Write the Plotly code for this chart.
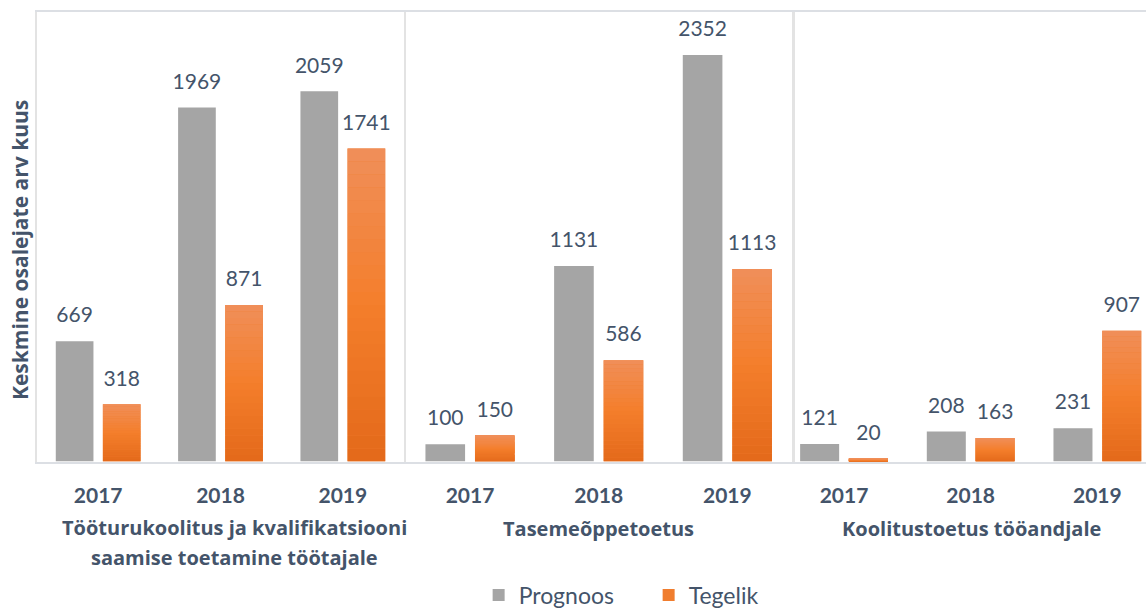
import plotly.graph_objects as go

# ---------------- data ----------------
years = ["2017", "2018", "2019"]
panel_name_lines = [
    ["Tööturukoolitus ja kvalifikatsiooni", "saamise toetamine töötajale"],
    ["Tasemeõppetoetus"],
    ["Koolitustoetus tööandjale"],
]
prognoos_p1 = [669, 1969, 2059]
tegelik_p1 = [318, 871, 1741]
prognoos_p2 = [100, 1131, 2352]
tegelik_p2 = [150, 586, 1113]
prognoos_p3 = [121, 208, 231]
tegelik_p3 = [20, 163, 907]
y_title = "Keskmine osalejate arv kuus"
series_names = ["Prognoos", "Tegelik"]

# ---------------- styling ----------------
W, H = 1146, 608
FONT = "Lato"
FONT_B = "Open Sans"
TXT = "#44546a"
GREY = "#a5a5a5"
ORANGE_MID = "#f07d2e"
GRAD_STOPS = [(0.0, (227, 105, 26)), (0.5, (244, 126, 43)), (1.0, (240, 143, 90))]
K = 24  # gradient slices

# panel geometry (pixels)
x_dom_px = [(37, 404), (405.7, 791.7), (795, 1146)]
x_ranges = [[-0.5, 2.5], [-0.5, 2.5], [-0.387, 2.384]]
y_max = [2500, 2600, 3120]
y_top_px, y_bot_px = 12, 461.5
name_cx_px = [234, 598.7, 971]


def grad(f):
    for (f0, c0), (f1, c1) in zip(GRAD_STOPS[:-1], GRAD_STOPS[1:]):
        if f <= f1:
            t = (f - f0) / (f1 - f0)
            c = [round(a + (b - a) * t) for a, b in zip(c0, c1)]
            return "rgb(%d,%d,%d)" % tuple(c)
    return "rgb(%d,%d,%d)" % GRAD_STOPS[-1][1]


panels = [(prognoos_p1, tegelik_p1), (prognoos_p2, tegelik_p2), (prognoos_p3, tegelik_p3)]

fig = go.Figure()
for k, (prog, teg) in enumerate(panels, start=1):
    xa = "x" if k == 1 else f"x{k}"
    ya = "y" if k == 1 else f"y{k}"
    fig.add_trace(go.Bar(x=years, y=prog, xaxis=xa, yaxis=ya, name=series_names[0],
                         marker=dict(color=GREY, line=dict(width=0)), offsetgroup="prog",
                         showlegend=(k == 1), legendgroup="prog", hoverinfo="skip"))
    fig.add_trace(go.Bar(x=years, y=teg, xaxis=xa, yaxis=ya, name=series_names[1],
                         marker=dict(color=ORANGE_MID, line=dict(width=0)), offsetgroup="teg",
                         showlegend=(k == 1), legendgroup="teg", hoverinfo="skip"))
    for i in range(K):
        fig.add_trace(go.Bar(x=years, y=[v / K for v in teg], base=[v * i / K for v in teg],
                             xaxis=xa, yaxis=ya, marker=dict(color=grad((i + 0.5) / K), line=dict(width=0)),
                             offsetgroup="teg", showlegend=False, legendgroup="teg", hoverinfo="skip"))
    for vals, grp in ((prog, "prog"), (teg, "teg")):
        fig.add_trace(go.Scatter(x=years, y=vals, xaxis=xa, yaxis=ya, mode="markers+text",
                                 text=[str(v) for v in vals], textposition="top center",
                                 textfont=dict(family=FONT, size=21, color=TXT),
                                 marker=dict(size=20, opacity=0), orientation="v",
                                 offsetgroup=grp, showlegend=False, hoverinfo="skip", cliponaxis=False))

layout = dict(
    width=W, height=H, autosize=False,
    margin=dict(l=0, r=0, t=0, b=0, autoexpand=False),
    paper_bgcolor="white", plot_bgcolor="white",
    barmode="group", bargap=0.23, bargroupgap=0.2,
    scattermode="group", scattergap=0.23,
    font=dict(family=FONT, color=TXT),
    showlegend=True,
    legend=dict(orientation="h", x=0.566, xanchor="center", y=1 - 595 / H, yanchor="middle",
                font=dict(family=FONT, size=23, color=TXT), itemwidth=30, traceorder="normal",
                entrywidth=125, entrywidthmode="pixels",
                bgcolor="rgba(0,0,0,0)"),
)
ydom = [1 - y_bot_px / H, 1 - y_top_px / H]
for k in range(1, 4):
    xd = x_dom_px[k - 1]
    xkey = "xaxis" if k == 1 else f"xaxis{k}"
    ykey = "yaxis" if k == 1 else f"yaxis{k}"
    yanchor = "y" if k == 1 else f"y{k}"
    xanchor = "x" if k == 1 else f"x{k}"
    layout[xkey] = dict(domain=[xd[0] / W, min(xd[1] / W, 1.0)], anchor=yanchor, type="category",
                        range=x_ranges[k - 1], showgrid=False, zeroline=False,
                        showline=True, linecolor="#dcdfe4", linewidth=2, mirror=True,
                        ticks="", ticklabelstandoff=14,
                        tickfont=dict(family=FONT, size=21, color=TXT, weight="bold"),
                        fixedrange=True)
    layout[ykey] = dict(domain=ydom, anchor=xanchor, range=[0, y_max[k - 1]], showgrid=False,
                        zeroline=False, showticklabels=False, ticks="",
                        showline=True, linecolor="#e3e3e3", linewidth=2, mirror=(k != 3),
                        fixedrange=True)
fig.update_layout(**layout)

annotations = [dict(text=f"<b>{y_title}</b>", x=20 / W, y=1 - 250 / H, xref="paper", yref="paper",
                    textangle=-90, showarrow=False, font=dict(family=FONT_B, size=21, color=TXT),
                    xanchor="center", yanchor="middle")]
for k, lines in enumerate(panel_name_lines):
    ys = [528] if len(lines) == 1 else [527, 557]
    for line, yc in zip(lines, ys):
        annotations.append(dict(text=f"<b>{line}</b>", x=name_cx_px[k] / W, y=1 - yc / H,
                                xref="paper", yref="paper", showarrow=False,
                                font=dict(family=FONT_B, size=20, color=TXT),
                                xanchor="center", yanchor="middle"))
fig.update_layout(annotations=annotations)

fig.write_html("out.html", config={"displayModeBar": False},
               post_script="document.body.style.margin='0';document.body.style.overflow='hidden';")
